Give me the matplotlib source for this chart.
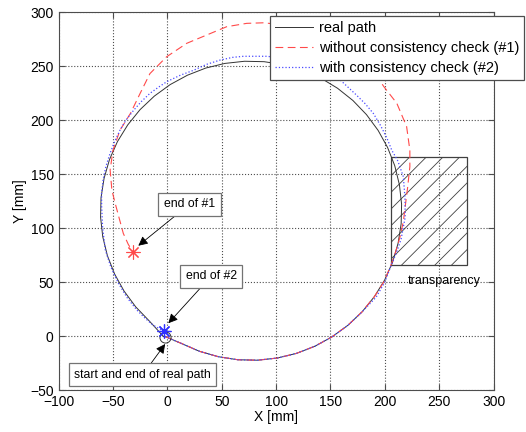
import matplotlib
matplotlib.use('Agg')
import matplotlib.pyplot as plt
from matplotlib.patches import Rectangle

plt.rcParams['font.family'] = ['Liberation Sans', 'DejaVu Sans']
plt.rcParams['hatch.linewidth'] = 0.6

# paths (mm), in driving order
real_x = [-2, 14.1, 29.6, 47.1, 64.9, 83, 101.1, 118.7, 135.6, 151.4, 166, 179.1, 190.4,
          199.9, 207.2, 212.2, 215, 215.4, 213.4, 209.1, 202.5, 193.8, 183.1, 170.6, 156.5,
          141, 124.4, 106.9, 89, 71, 52.9, 35.3, 18.5, 2.6, -12, -25.1, -36.4, -45.9, -53.2,
          -58.2, -61, -61.4, -59.4, -55.1, -48.5, -39.8, -29.1, -16.6, -3.5]
real_y = [-0.5, -7.4, -14.2, -19.2, -22, -22.4, -20.4, -16.1, -9.5, -0.8, 9.9, 22.4, 36.5,
          52, 68.6, 86, 104, 122, 140, 157.7, 174.6, 190.4, 205, 218.1, 229.4,
          238.9, 246.2, 251.2, 254, 254.4, 252.4, 248.1, 241.5, 232.8, 222.1, 209.6, 195.5, 180, 163.4,
          145.9, 128, 110, 91.9, 74.3, 57.4, 41.6, 27, 13.9, -0.5]

no_check_x = [-2, 14.1, 29.6, 47.1, 64.9, 83, 101.1, 118.7, 135.6, 151.4, 166, 179.1, 190.4,
              199, 205, 210, 214, 217, 218.7, 221, 223, 223, 220, 211, 199, 190.7, 173.7, 154,
              132.2, 109, 88, 73, 54.6, 39.3, 17.8, -0.6, -16, -25, -34, -43.5, -50, -52.6,
              -51, -48, -44, -40.5, -36, -31.8]
no_check_y = [-0.5, -7.4, -14.2, -19.2, -22, -22.4, -20.4, -16.1, -9.5, -0.8, 9.9, 22.4, 36.5,
              50, 64, 78, 92, 106, 119.7, 138, 156.8, 172, 194, 215.5, 231, 243.6, 259.6, 272.6,
              282.2, 288, 290, 289.5, 286.4, 280, 271, 258.6, 243, 224.7, 206, 190.7, 172, 153.7,
              135, 123, 108, 95, 85, 78]

check_x = [-2, 14.1, 29.6, 47.1, 64.9, 83, 101.1, 118.7, 135.6, 151.4, 166, 179.1, 192,
           200, 206, 211, 215, 218.7, 218.5, 217, 212, 206.4, 202, 196, 189.5, 182, 174, 166,
           159, 150, 140, 130, 120, 105, 91.4, 70, 60, 48.5, 36, 24, 12, -0.5, -8, -16, -24,
           -31, -38, -43.5, -48.5, -52.7, -56.5, -59, -60.5, -60.4, -59.5, -57, -52, -45, -37,
           -28, -20, -13, -3.5]
check_y = [-0.5, -7.4, -14.2, -19.2, -22, -22.4, -20.4, -16.1, -9.5, -0.8, 9.9, 22.4, 36,
           50, 66, 78, 90, 110, 128, 147.5, 162, 172, 183, 195, 206, 215, 223, 230.5,
           237, 242, 247, 251, 254, 257.5, 259, 259, 258, 255.5, 251.5, 246, 241.5, 235.5, 230.5,
           224.7, 217, 209, 200, 190.7, 180, 169, 157, 145, 132, 119.7, 100, 79.6, 64, 48.8,
           35.5, 24, 16, 10, 4.6]

# region where the sensor was transparent
transp_x0, transp_y0, transp_x1, transp_y1 = 206, 66, 276, 166

fig = plt.figure(figsize=(5.26, 4.32), dpi=100)
ax = fig.add_axes([0.1114, 0.0972, 0.827, 0.875])

ax.plot(real_x, real_y, color='0.2', lw=0.7, label='real path')
ax.plot(no_check_x, no_check_y, color='#ff4a4a', lw=0.8, dashes=(7, 4),
        label='without consistency check (#1)')
ax.plot(check_x, check_y, color='#4a4aff', lw=0.9, linestyle=':',
        label='with consistency check (#2)')

ax.plot(real_x[0], real_y[0], 'o', mfc='none', mec='0.2', ms=8, mew=0.7)
ax.plot(no_check_x[-1], no_check_y[-1], marker=(8, 2, 0), color='#ff4a4a', ms=10, mew=0.8, ls='none')
ax.plot(check_x[-1], check_y[-1], marker=(8, 2, 0), color='#3030ff', ms=10, mew=0.9, ls='none')

ax.add_patch(Rectangle((transp_x0, transp_y0), transp_x1 - transp_x0, transp_y1 - transp_y0,
                       fill=False, hatch='//', edgecolor='0.25', lw=0.9))
ax.text(254.6, 51.2, 'transparency', fontsize=9, ha='center', va='center')

box = dict(boxstyle='square,pad=0.45', fc='white', ec='0.45', lw=0.9)
arr = dict(arrowstyle='-|>', color='k', lw=0.6, mutation_scale=14, shrinkA=0, shrinkB=0)
ax.annotate('end of #1', xy=(-26.7, 83.6), xytext=(20.4, 122), fontsize=8.8,
            ha='center', va='center', bbox=box, arrowprops=arr)
ax.annotate('end of #2', xy=(0.9, 11.8), xytext=(40.2, 55.3), fontsize=8.8,
            ha='center', va='center', bbox=box, arrowprops=arr)
ax.annotate('start and end of real path', xy=(-2, -7.4), xytext=(-22.8, -36), fontsize=8.8,
            ha='center', va='center', bbox=box, arrowprops=arr)

ax.set_xlim(-100, 300)
ax.set_ylim(-50, 300)
ax.set_xticks(range(-100, 301, 50))
ax.set_yticks(range(-50, 301, 50))
ax.grid(True, color='0.3', linestyle=':', lw=0.8)
ax.tick_params(direction='in', top=True, right=True, labelsize=10, length=4, color='0.3')
for s in ax.spines.values():
    s.set_color('0.3')
ax.set_xlabel('X [mm]', fontsize=10, labelpad=1)
ax.set_ylabel('Y [mm]', fontsize=10, labelpad=2)

leg = ax.legend(loc='upper left', bbox_to_anchor=(270 / 526, 1 - 16 / 432),
                bbox_transform=fig.transFigure, borderaxespad=0, fontsize=10.5,
                handlelength=2.6, handletextpad=0.4, labelspacing=0.4,
                fancybox=False, framealpha=1, edgecolor='0.3', borderpad=0.35)
leg.get_frame().set_linewidth(0.9)

fig.savefig('out.png', dpi=100)
